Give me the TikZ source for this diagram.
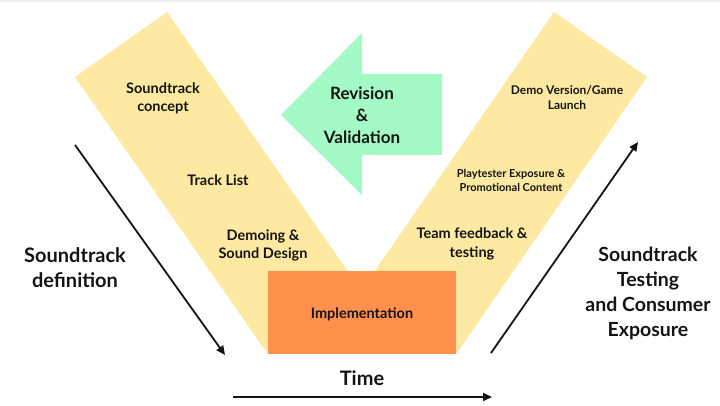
\documentclass[tikz,border=0pt]{standalone}
\usepackage{fontspec}
\setmainfont{Lato}
\usetikzlibrary{arrows.meta}
\definecolor{bandyellow}{RGB}{253,233,162}
\definecolor{implorange}{RGB}{255,145,77}
\definecolor{revgreen}{RGB}{163,250,196}
\definecolor{inkdark}{RGB}{20,20,20}
\definecolor{topgray}{RGB}{236,236,240}
\tikzset{
  lbl/.style={text=inkdark, align=center, font=\bfseries, inner sep=0pt},
  flowarrow/.style={draw=inkdark, line width=1.8pt, -{Triangle[length=9pt,width=8pt]}, shorten >=0pt},
}
\begin{document}
\begin{tikzpicture}[x=1pt,y=-1pt]
\useasboundingbox (0,0) rectangle (720,406);
\fill[white] (0,0) rectangle (720,406);
\fill[topgray] (0,0) rectangle (720,2);
% bands
\fill[bandyellow] (167,12) -- (75,77) -- (267,353) -- (405,353) -- cycle;
\fill[bandyellow] (554,12) -- (647,77) -- (457,353) -- (318,353) -- cycle;
% implementation box
\node[fill=implorange, minimum width=188pt, minimum height=83pt, inner sep=0pt, anchor=north west] (impl) at (268,271) {};
\node[lbl, font=\bfseries\fontsize{14.5}{18}\selectfont] (impltxt) at (362,314) {Implementation};
% green arrow
\fill[revgreen] (281,115) -- (362,33) -- (362,74) -- (442,74) -- (442,155) -- (362,155) -- (362,195) -- cycle;
\node[lbl, font=\bfseries\fontsize{17}{22}\selectfont] (rev) at (362,115) {Revision\\\&\\Validation};
% left band texts
\node[lbl, font=\bfseries\fontsize{14.5}{18}\selectfont] (concept) at (163,98) {Soundtrack\\concept};
\node[lbl, font=\bfseries\fontsize{14.5}{18}\selectfont] (tracks) at (218,180) {Track List};
\node[lbl, font=\bfseries\fontsize{14.5}{18}\selectfont] (demo) at (263,245) {Demoing \&\\Sound Design};
% right band texts
\node[lbl, font=\bfseries\fontsize{12}{15}\selectfont] (launch) at (567,98) {Demo Version/Game\\Launch};
\node[lbl, font=\bfseries\fontsize{11}{14}\selectfont] (play) at (511,180) {Playtester Exposure \&\\Promotional Content};
\node[lbl, font=\bfseries\fontsize{14.5}{19}\selectfont] (team) at (472,244) {Team feedback \&\\testing};
% side texts
\node[lbl, font=\bfseries\fontsize{20}{25}\selectfont] (defn) at (75,268) {Soundtrack\\definition};
\node[lbl, font=\bfseries\fontsize{19.5}{25}\selectfont] (testexp) at (648,293) {Soundtrack\\Testing\\and Consumer\\Exposure};
\node[lbl, font=\bfseries\fontsize{20}{22}\selectfont] (time) at (362,378) {Time};
% arrows
\coordinate (ls) at (75,145);
\coordinate (le) at (225,355);
\coordinate (rs) at (491,353);
\coordinate (re) at (638,142);
\coordinate (ts) at (233,397);
\coordinate (te) at (492,397);
\draw[flowarrow] (ls) -- (le);
\draw[flowarrow] (rs) -- (re);
\draw[flowarrow] (ts) -- (te);
\end{tikzpicture}
\end{document}
